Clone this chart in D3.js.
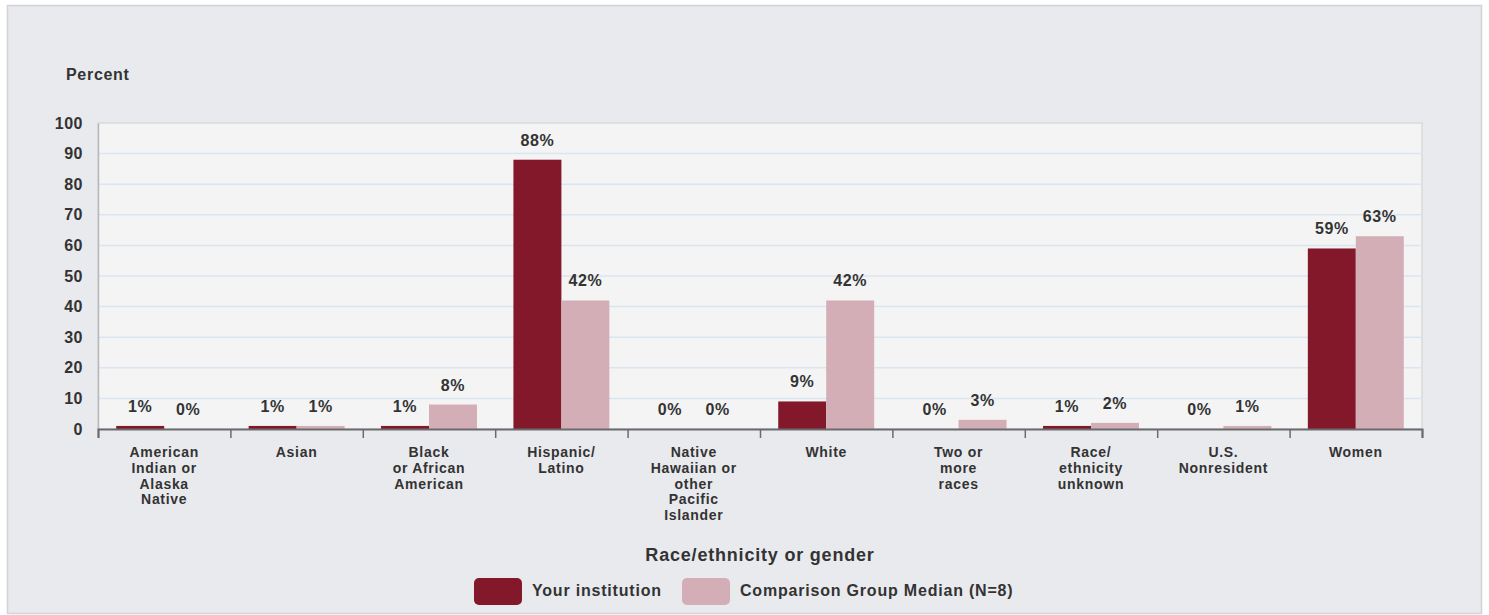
<!DOCTYPE html>
<html><head><meta charset="utf-8">
<script src="https://cdn.jsdelivr.net/npm/d3@7"></script>
<style>
html,body{margin:0;padding:0;background:#fff;}
svg{display:block;font-family:"Liberation Sans",Arial,sans-serif;}
</style></head>
<body>
<svg id="chart" width="1489" height="615"></svg>
<script>
const categories = [
  ["American","Indian or","Alaska","Native"],
  ["Asian"],
  ["Black","or African","American"],
  ["Hispanic/","Latino"],
  ["Native","Hawaiian or","other","Pacific","Islander"],
  ["White"],
  ["Two or","more","races"],
  ["Race/","ethnicity","unknown"],
  ["U.S.","Nonresident"],
  ["Women"]
];
const seriesNames = ["Your institution", "Comparison Group Median (N=8)"];
const yourInstitution = [1, 1, 1, 88, 0, 9, 0, 1, 0, 59];
const comparisonMedian = [0, 1, 8, 42, 0, 42, 3, 2, 1, 63];
const yTicks = [0, 10, 20, 30, 40, 50, 60, 70, 80, 90, 100];
const colors = ["#83182b", "#d4aeb7"];

const svg = d3.select("#chart");
const W = 1489, H = 615;
const m = {left: 98, right: 1422, top: 123, bottom: 429};
const txt = "#333333";

svg.append("rect").attr("x", 0).attr("y", 0).attr("width", W).attr("height", H).attr("fill", "#ffffff");
svg.append("rect").attr("x", 7.5).attr("y", 5.5).attr("width", 1474).attr("height", 608)
  .attr("fill", "#e9eaee").attr("stroke", "#d2d3d6").attr("stroke-width", 1.5);

const idx = categories.map((d, i) => i);
const x = d3.scaleBand().domain(idx).range([m.left, m.right]).paddingInner(0).paddingOuter(0);
const xs = d3.scaleBand().domain([0, 1]).range([0, x.bandwidth()]).paddingInner(0).paddingOuter(0.38);
const y = d3.scaleLinear().domain([0, 100]).range([m.bottom, m.top]);

// plot background
svg.append("rect").attr("x", m.left).attr("y", m.top).attr("width", m.right - m.left).attr("height", m.bottom - m.top)
  .attr("fill", "#f4f4f4").attr("stroke", "#d9dadd").attr("stroke-width", 1.5);

// gridlines
svg.append("g").selectAll("line").data(yTicks.filter(t => t > 0 && t < 100)).join("line")
  .attr("x1", m.left).attr("x2", m.right).attr("y1", d => y(d)).attr("y2", d => y(d))
  .attr("stroke", "#dbe5f0").attr("stroke-width", 1.5);

// y axis labels
const yAxis = d3.axisLeft(y).tickValues(yTicks).tickSize(0).tickPadding(15);
const gy = svg.append("g").attr("transform", `translate(${m.left},0)`).call(yAxis);
gy.select(".domain").attr("stroke", "#b8b9bc").attr("stroke-width", 1.5);
gy.selectAll("text").attr("font-size", 16).attr("font-weight", "bold").attr("fill", txt)
  .attr("letter-spacing", 0.5)
  .attr("font-family", '"Liberation Sans",Arial,sans-serif');

// bars
const series = [yourInstitution, comparisonMedian];
series.forEach((vals, s) => {
  svg.append("g").selectAll("rect").data(vals).join("rect")
    .attr("x", (d, i) => x(i) + xs(s))
    .attr("width", xs.bandwidth())
    .attr("y", d => y(d))
    .attr("height", d => y(0) - y(d))
    .attr("fill", colors[s]);
  svg.append("g").selectAll("text").data(vals).join("text")
    .attr("x", (d, i) => x(i) + xs(s) + xs.bandwidth() / 2)
    .attr("y", d => y(d) - 14)
    .attr("text-anchor", "middle")
    .attr("font-size", 16).attr("font-weight", "bold").attr("fill", txt)
    .attr("letter-spacing", 0.6)
    .text(d => d + "%");
});

// x axis
const xAxis = d3.axisBottom(d3.scaleLinear().domain([0, categories.length]).range([m.left, m.right]))
  .tickValues(d3.range(categories.length + 1)).tickSize(9).tickFormat("");
const gx = svg.append("g").attr("transform", `translate(0,${m.bottom})`).call(xAxis);
gx.select(".domain").attr("stroke", "#6a6b6e").attr("stroke-width", 2);
gx.selectAll(".tick line").attr("stroke", "#6a6b6e").attr("stroke-width", 1.5);

// category labels
const cl = svg.append("g").selectAll("text").data(categories).join("text")
  .attr("x", (d, i) => x(i) + x.bandwidth() / 2)
  .attr("y", 457)
  .attr("text-anchor", "middle")
  .attr("font-size", 14).attr("font-weight", "bold").attr("fill", txt)
  .attr("letter-spacing", 0.7);
cl.selectAll("tspan").data(d => d).join("tspan")
  .attr("x", function() { return d3.select(this.parentNode).attr("x"); })
  .attr("dy", (d, i) => i === 0 ? 0 : 15.8)
  .text(d => d);

// titles
svg.append("text").attr("x", 66).attr("y", 80).attr("font-size", 16).attr("font-weight", "bold")
  .attr("letter-spacing", 0.7).attr("fill", txt).text("Percent");
svg.append("text").attr("x", (m.left + m.right) / 2).attr("y", 561).attr("text-anchor", "middle")
  .attr("font-size", 18).attr("font-weight", "bold").attr("letter-spacing", 0.8).attr("fill", txt)
  .text("Race/ethnicity or gender");

// legend
const legendX = [474, 682];
seriesNames.forEach((n, s) => {
  svg.append("rect").attr("x", legendX[s]).attr("y", 578).attr("width", 48).attr("height", 27).attr("rx", 5)
    .attr("fill", colors[s]);
  svg.append("text").attr("x", legendX[s] + 58).attr("y", 596).attr("font-size", 16).attr("font-weight", "bold")
    .attr("letter-spacing", 0.8).attr("fill", txt).text(n);
});
</script>
</body></html>
